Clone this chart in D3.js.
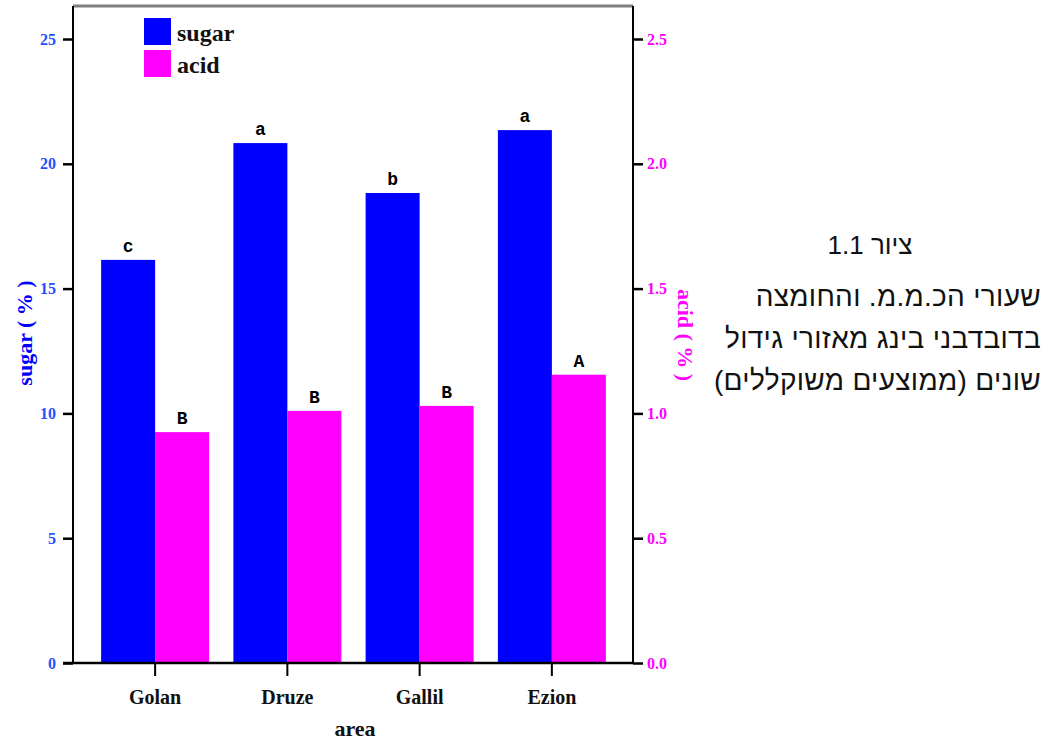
<!DOCTYPE html>
<html>
<head>
<meta charset="utf-8">
<script src="https://cdn.jsdelivr.net/npm/d3@7"></script>
<style>
  body { margin: 0; background: #fff; }
</style>
</head>
<body>
<svg width="1051" height="740"></svg>
<script>
var areas = ["Golan", "Druze", "Gallil", "Ezion"];
var sugar = [16.15, 20.83, 18.83, 21.35];
var acid = [0.925, 1.01, 1.03, 1.155];
var sugarLetters = ["c", "a", "b", "a"];
var acidLetters = ["B", "B", "B", "A"];
var sugarTicks = [0, 5, 10, 15, 20, 25];
var acidTicks = [0, 0.5, 1.0, 1.5, 2.0, 2.5];
var captionLines = ["ציור 1.1", "שעורי הכ.מ.מ. והחומצה", "בדובדבני בינג מאזורי גידול", "שונים (ממוצעים משוקללים)"];

var svg = d3.select("svg");
var plotL = 73, plotR = 633, plotT = 6, plotB = 663;
var serif = "'Liberation Serif', 'DejaVu Serif', serif";

var x = d3.scaleBand().domain(areas).range([89, 618]).paddingInner(0).paddingOuter(0);
var y1 = d3.scaleLinear().domain([0, 25]).range([plotB, 39]);
var y2 = d3.scaleLinear().domain([0, 2.5]).range([plotB, 39]);
var barW = 54;

// frame top
svg.append("line").attr("x1", plotL).attr("x2", plotR).attr("y1", plotT).attr("y2", plotT)
   .attr("stroke", "#808080").attr("stroke-width", 3);

// bars
var g = svg.append("g");
g.selectAll(".sugar").data(areas).enter().append("rect")
  .attr("x", function (d) { return x(d) + x.bandwidth() / 2 - barW; })
  .attr("y", function (d, i) { return y1(sugar[i]); })
  .attr("width", barW)
  .attr("height", function (d, i) { return plotB - y1(sugar[i]); })
  .attr("fill", "#0000ff");
g.selectAll(".acid").data(areas).enter().append("rect")
  .attr("x", function (d) { return x(d) + x.bandwidth() / 2; })
  .attr("y", function (d, i) { return y2(acid[i]); })
  .attr("width", barW)
  .attr("height", function (d, i) { return plotB - y2(acid[i]); })
  .attr("fill", "#ff00ff");

// letters
var mono = "'Liberation Mono', 'DejaVu Sans Mono', monospace";
g.selectAll(".sl").data(areas).enter().append("text")
  .attr("x", function (d) { return x(d) + x.bandwidth() / 2 - barW / 2; })
  .attr("y", function (d, i) { return y1(sugar[i]) - 8; })
  .attr("text-anchor", "middle").attr("font-family", mono).attr("font-weight", "bold")
  .attr("font-size", "18px").text(function (d, i) { return sugarLetters[i]; });
g.selectAll(".al").data(areas).enter().append("text")
  .attr("x", function (d) { return x(d) + x.bandwidth() / 2 + barW / 2; })
  .attr("y", function (d, i) { return y2(acid[i]) - 8; })
  .attr("text-anchor", "middle").attr("font-family", mono).attr("font-weight", "bold")
  .attr("font-size", "18px").text(function (d, i) { return acidLetters[i]; });

// left axis
var la = svg.append("g").attr("transform", "translate(" + plotL + ",0)")
  .call(d3.axisLeft(y1).tickValues(sugarTicks).tickSize(10).tickPadding(7).tickFormat(d3.format("d")));
la.select(".domain").attr("d", "M0," + plotB + "V" + plotT).attr("stroke-width", 2);
la.selectAll(".tick line").attr("stroke-width", 2.5);
la.selectAll(".tick text").attr("fill", "#1f4fff").attr("font-family", serif)
  .attr("font-weight", "bold").attr("font-size", "16px");

// right axis
var ra = svg.append("g").attr("transform", "translate(" + plotR + ",0)")
  .call(d3.axisRight(y2).tickValues(acidTicks).tickSize(10).tickPadding(4).tickFormat(d3.format(".1f")));
ra.select(".domain").attr("d", "M0," + plotB + "V" + plotT).attr("stroke-width", 2);
ra.selectAll(".tick line").attr("stroke-width", 2.5);
ra.selectAll(".tick text").attr("fill", "#ff00ff").attr("font-family", serif)
  .attr("font-weight", "bold").attr("font-size", "16px");

// bottom axis
var ba = svg.append("g").attr("transform", "translate(0," + plotB + ")")
  .call(d3.axisBottom(x).tickSize(13).tickPadding(14));
ba.select(".domain").attr("d", "M" + (plotL - 10) + ",0H" + plotR).attr("stroke-width", 2.5);
ba.selectAll(".tick line").attr("stroke-width", 2);
ba.selectAll(".tick text").attr("fill", "#111").attr("font-family", serif)
  .attr("font-weight", "bold").attr("font-size", "20px");

// axis titles
svg.append("text").attr("x", 355).attr("y", 736).attr("text-anchor", "middle")
  .attr("font-family", serif).attr("font-weight", "bold").attr("font-size", "22px")
  .attr("fill", "#111").text("area");
svg.append("text").attr("transform", "translate(32,333) rotate(-90)").attr("text-anchor", "middle")
  .attr("font-family", serif).attr("font-weight", "bold").attr("font-size", "22px")
  .attr("fill", "#0000ff").text("sugar ( % )");
svg.append("text").attr("transform", "translate(678,335) rotate(90)").attr("text-anchor", "middle")
  .attr("font-family", serif).attr("font-weight", "bold").attr("font-size", "22px")
  .attr("fill", "#ff00ff").text("acid ( % )");

// legend
var legend = [["sugar", "#0000ff"], ["acid", "#ff00ff"]];
var lg = svg.append("g").attr("transform", "translate(144,18)");
lg.selectAll("rect").data(legend).enter().append("rect")
  .attr("x", 0).attr("y", function (d, i) { return i * 32; })
  .attr("width", 27).attr("height", 27).attr("fill", function (d) { return d[1]; });
lg.selectAll("text").data(legend).enter().append("text")
  .attr("x", 33).attr("y", function (d, i) { return i * 32 + 23; })
  .attr("font-family", serif).attr("font-weight", "bold").attr("font-size", "24px")
  .attr("fill", "#111").text(function (d) { return d[0]; });

// caption
var cap = svg.append("g").attr("font-family", "'Liberation Sans', 'DejaVu Sans', sans-serif")
  .attr("fill", "#111");
cap.append("text").attr("x", 870).attr("y", 254).attr("text-anchor", "middle")
  .attr("font-size", "26px").attr("direction", "rtl").text(captionLines[0]);
cap.selectAll(".ln").data(captionLines.slice(1)).enter().append("text")
  .attr("x", 1041).attr("y", function (d, i) { return 306 + i * 42; })
  .attr("font-size", "28px").attr("letter-spacing", "0.3px")
  .attr("direction", "rtl").attr("text-anchor", "start").text(function (d) { return d; });
</script>
</body>
</html>
